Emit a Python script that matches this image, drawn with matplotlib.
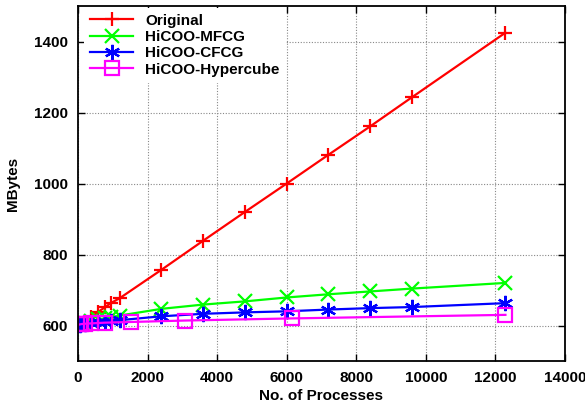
import matplotlib.pyplot as plt
from matplotlib.ticker import MultipleLocator

# memory usage per number of processes
procs = [48, 96, 192, 384, 576, 768, 960, 1200, 2400, 3600, 4800, 6000,
         7200, 8400, 9600, 12288]
original = [600, 604, 611, 625, 638, 651, 664, 677, 757, 839, 920, 1000,
            1081, 1161, 1243, 1425]
mfcg = [603, 605, 608, 613, 617, 620, 624, 628, 647, 659, 668, 679,
        688, 696, 704, 720]
cfcg = [602, 603, 605, 607, 609, 611, 613, 615, 626, 633, 637, 640,
        645, 649, 652, 663]

hyper_procs = [48, 96, 192, 384, 768, 1536, 3072, 6144, 12288]
hypercube = [603, 604, 605, 606, 608, 610, 614, 620, 630]

plt.rcParams['font.family'] = ['Liberation Sans', 'DejaVu Sans']
plt.rcParams['font.weight'] = 'bold'

fig = plt.figure(figsize=(5.85, 4.03), dpi=100)
ax = fig.add_axes([0.1333, 0.1042, 0.8325, 0.8808])

lw = 1.6
ax.plot(procs, original, color='#ff0000', lw=lw, marker='+', ms=10, mew=1.6,
        label='Original')
ax.plot(procs, mfcg, color='#00ff00', lw=lw, marker='x', ms=10, mew=1.6,
        label='HiCOO-MFCG')
ax.plot(procs, cfcg, color='#0000ff', lw=lw, marker=(6, 2, 0), ms=11, mew=1.6,
        label='HiCOO-CFCG')
ax.plot(hyper_procs, hypercube, color='#ff00ff', lw=lw, marker='s', ms=10,
        mew=1.6, mfc='none', label='HiCOO-Hypercube')

ax.set_xlim(0, 14000)
ax.set_ylim(500, 1500)
ax.xaxis.set_major_locator(MultipleLocator(2000))
ax.set_yticks([600, 800, 1000, 1200, 1400])

ax.grid(True, color='#888888', linestyle=(0, (1, 1.5)), linewidth=0.8)
ax.set_axisbelow(True)
ax.tick_params(direction='in', top=True, right=True, length=5, width=1,
               labelsize=11, pad=7)
for lab in ax.get_xticklabels() + ax.get_yticklabels():
    lab.set_fontweight('bold')
for s in ax.spines.values():
    s.set_linewidth(1.3)

ax.set_xlabel('No. of Processes', fontsize=11, fontweight='bold', labelpad=3)
ax.set_ylabel('MBytes', fontsize=11, fontweight='bold', labelpad=10)

leg = ax.legend(loc='upper left', frameon=True, fancybox=False,
                facecolor='white', edgecolor='none', framealpha=1,
                handlelength=2.8, handletextpad=0.8,
                labelspacing=0.15, borderaxespad=0.1,
                bbox_to_anchor=(0.01, 1.0),
                prop={'weight': 'bold', 'size': 11})

fig.savefig('out.png', dpi=100)
